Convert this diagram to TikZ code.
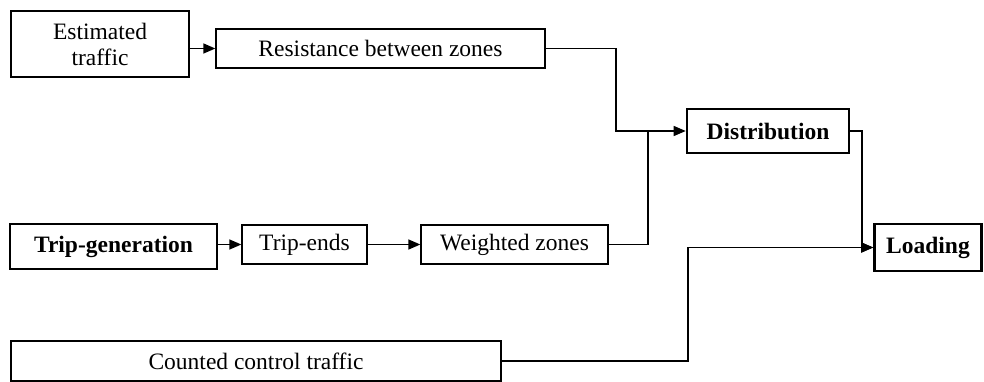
\documentclass[tikz,border=0pt]{standalone}
\usepackage{fontspec}
\setmainfont{Liberation Serif}
\usetikzlibrary{arrows.meta}
\begin{document}
\begin{tikzpicture}[x=1pt,y=-1pt,
  box/.style={draw, line width=1.3pt, inner sep=0pt, align=center,
    font=\fontsize{23.5}{26}\selectfont},
  bbox/.style={box, line width=2.6pt, font=\fontsize{23.5}{26}\selectfont\bfseries},
  conn/.style={line width=1.3pt},
  arr/.style={conn, -{Triangle[length=12pt,width=10pt]}}]
\useasboundingbox (0,0) rectangle (984,382);
\node[box, minimum width=178pt, minimum height=66pt] (est) at (100,44) {Estimated\\traffic};
\node[box, minimum width=329pt, minimum height=39pt] (res) at (380.5,48.5) {Resistance between zones};
\node[bbox, minimum width=162pt, minimum height=44pt] (dist) at (768,131) {Distribution};
\node[bbox, minimum width=207pt, minimum height=45pt] (tgen) at (113.5,246.5) {Trip-generation};
\node[box, minimum width=125pt, minimum height=39pt] (tends) at (304.5,244.5) {Trip-ends};
\node[box, minimum width=187pt, minimum height=39pt] (wz) at (514.5,244.5) {Weighted zones};
\node[bbox, minimum width=107pt, minimum height=47pt] (load) at (928,247.5) {Loading};
\node[box, minimum width=490pt, minimum height=40pt] (cnt) at (256,361) {Counted control traffic};
\coordinate (j1) at (616,131);
\coordinate (j2) at (648,131);
\coordinate (j3) at (862,247.5);
\coordinate (j4) at (688,247.5);
\draw[arr] (est.east |- res) -- (res.west);
\draw[arr] (res.east) -| (j1) -- (dist.west);
\draw[conn] (wz.east) -| (j2);
\draw[arr] (dist.east) -| (j3) -- (load.west);
\draw[arr] (cnt.east) -| (j4) -- (load.west);
\draw[arr] (tgen.east |- tends) -- (tends.west);
\draw[arr] (tends.east) -- (wz.west);
\end{tikzpicture}
\end{document}
